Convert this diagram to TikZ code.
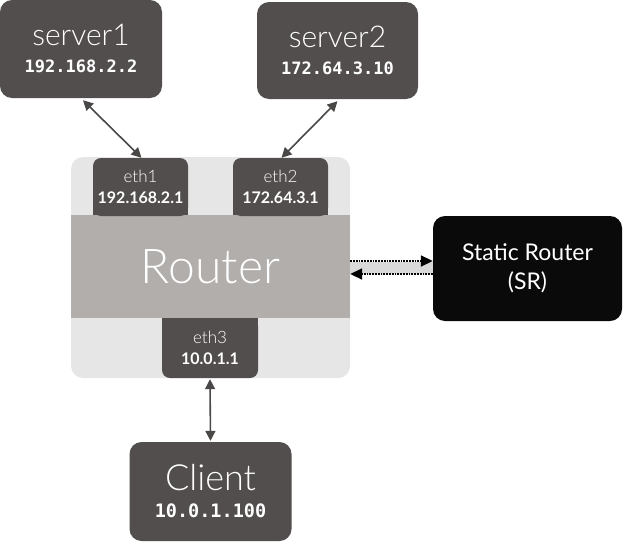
\documentclass[tikz,border=0pt]{standalone}
\usepackage{fontspec}
\setmainfont{Lato}
\newfontfamily\lightfont{Lato Light}
\newfontfamily\monofont{DejaVu Sans Mono}
\usetikzlibrary{arrows.meta}
\definecolor{darkbox}{HTML}{524E4D}
\definecolor{outerbg}{HTML}{E6E6E6}
\definecolor{band}{HTML}{B1AEAC}
\definecolor{strip}{HTML}{D9D9D9}
\definecolor{arrowc}{HTML}{4A4747}
\begin{document}
\begin{tikzpicture}[x=1pt,y=-1pt,
  hostbox/.style={fill=darkbox, rounded corners=12pt, text=white, align=center, inner sep=0pt,
     font=\fontsize{16}{27}\selectfont},
  ethbox/.style={fill=darkbox, rounded corners=8pt, text=white, align=center, inner sep=0pt,
     minimum width=95pt, minimum height=58pt, font=\fontsize{16}{21}\selectfont},
  link/.style={arrowc, line width=1.6pt, {Triangle[length=10pt,width=10pt]}-{Triangle[length=10pt,width=10pt]}},
  srlink/.style={black, line width=1.8pt, densely dotted, -{Triangle[length=12pt,width=11pt]}}
]
\useasboundingbox (0,0) rectangle (623,541);
% router body
\node[fill=outerbg, rounded corners=12pt, minimum width=279pt, minimum height=221pt, inner sep=0pt] (router) at (210.5,267.5) {};
\node[fill=band, minimum width=279pt, minimum height=103pt, inner sep=0pt, text=white,
  font=\lightfont\fontsize{48}{52}\selectfont] (routerband) at (210.5,266.5) {Router};
% eth ports
\fill[darkbox] (93,186) rectangle (188,215);
\node[ethbox] (eth1) at (140.5,187) {{\lightfont\fontsize{17}{17}\selectfont eth1}\\{\bfseries\fontsize{16}{17}\selectfont 192.168.2.1}};
\fill[darkbox] (233,186) rectangle (328,215);
\node[ethbox] (eth2) at (280.5,187) {{\lightfont\fontsize{17}{17}\selectfont eth2}\\{\bfseries\fontsize{16}{17}\selectfont 172.64.3.1}};
\fill[darkbox] (162,318) rectangle (258,348);
\node[ethbox, minimum width=96pt, minimum height=60pt] (eth3) at (210,348) {{\lightfont\fontsize{17}{17}\selectfont eth3}\\{\bfseries\fontsize{16}{17}\selectfont 10.0.1.1}};
% hosts
\node[hostbox, minimum width=162pt, minimum height=98pt] (server1) at (81,49)
  {{\lightfont\fontsize{30}{32}\selectfont server1}\\{\monofont\bfseries\fontsize{17}{18}\selectfont 192.168.2.2}};
\node[hostbox, minimum width=161pt, minimum height=97pt] (server2) at (337.5,50.5)
  {{\lightfont\fontsize{30}{32}\selectfont server2}\\{\monofont\bfseries\fontsize{17}{18}\selectfont 172.64.3.10}};
\node[hostbox, minimum width=162pt, minimum height=99pt] (client) at (210.5,491.5)
  {{\lightfont\fontsize{36}{38}\selectfont Client}\\{\monofont\bfseries\fontsize{18.5}{20}\selectfont 10.0.1.100}};
\node[fill=black!96, rounded corners=12pt, text=white, align=center, inner sep=0pt,
  minimum width=189pt, minimum height=105pt, font=\fontsize{23}{32}\selectfont] (sr) at (527.5,268.5)
  {\raisebox{-3pt}{Static Router}\\(SR)};
% links
\draw[link] ([xshift=2pt,yshift=-2pt]server1.south) -- ([xshift=1pt]eth1.north);
\draw[link] ([yshift=-2pt]server2.south) -- ([xshift=1pt]eth2.north);
\draw[link] ([yshift=-1pt]eth3.south) -- ([yshift=1pt]client.north);
% SR links
\fill[strip] (routerband.east |- 0,262) rectangle (sr.west |- 0,274);
\draw[srlink] (routerband.east |- 0,261) -- (sr.west |- 0,261);
\draw[srlink] (sr.west |- 0,274) -- (routerband.east |- 0,274);
\end{tikzpicture}
\end{document}
